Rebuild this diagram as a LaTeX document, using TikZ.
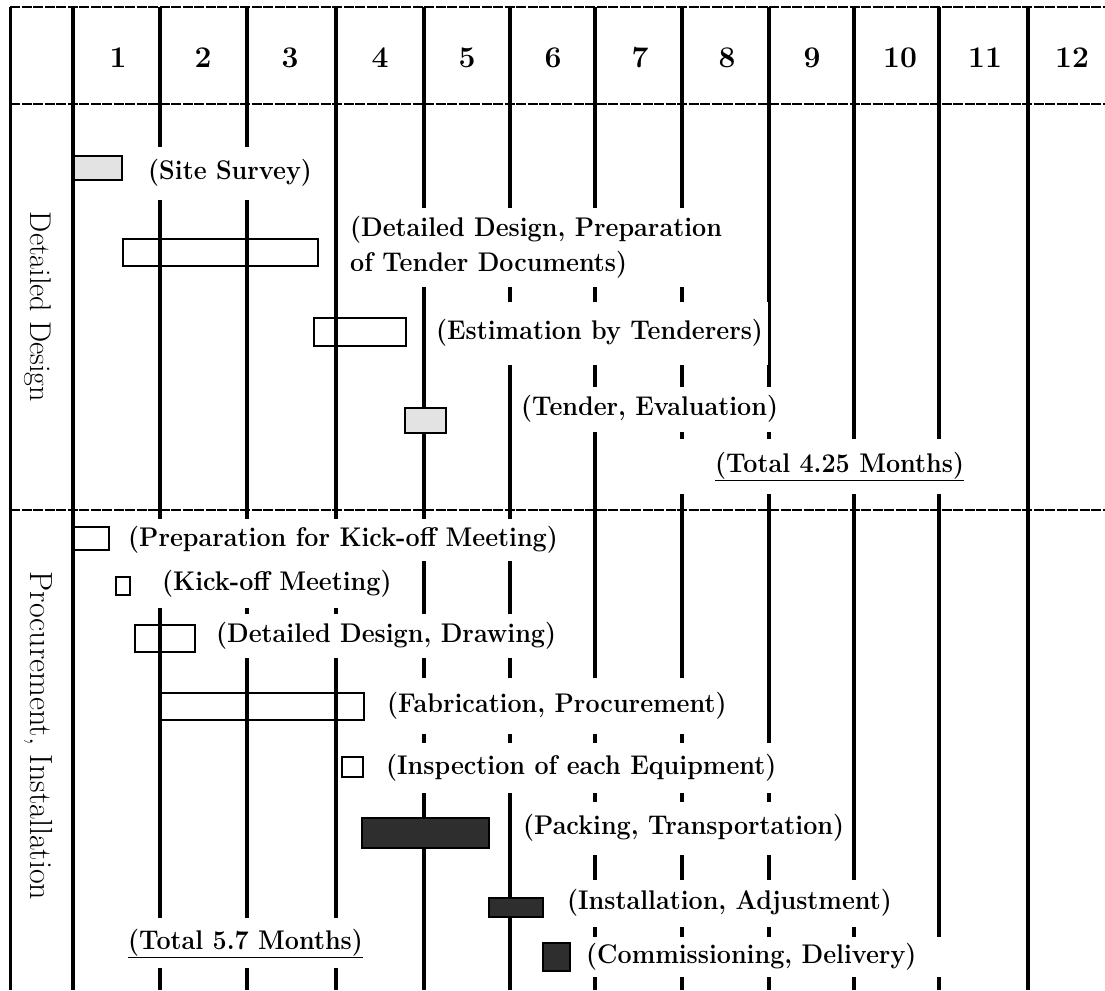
\documentclass[tikz,border=0pt]{standalone}
\usepackage{graphicx}
\newcommand{\tx}[1]{\scalebox{0.93}[1.0]{#1}}
\begin{document}
\begin{tikzpicture}[x=1pt,y=-1pt,
  vline/.style={line width=3.2pt},
  hline/.style={line width=1.4pt, dash pattern=on 10pt off 1.5pt},
  frameline/.style={line width=3pt},
  bar/.style={draw=black, line width=1.8pt},
  lightbar/.style={bar, fill=gray!22},
  darkbar/.style={bar, fill=black!82},
  lbl/.style={fill=white, inner xsep=5pt, inner ysep=0pt, anchor=west,
    font=\fontsize{27}{32}\selectfont\bfseries, text height=20pt, text depth=7pt},
  lbltwo/.style={fill=white, inner xsep=5pt, inner ysep=0pt, anchor=west, align=left,
    font=\fontsize{27}{35}\selectfont\bfseries},
  num/.style={font=\fontsize{30}{34}\selectfont\bfseries},
  side/.style={rotate=-90, text height=21pt, text depth=0pt, inner sep=0pt}
]
\useasboundingbox (0,0) rectangle (1105,990);
\fill[white] (0,0) rectangle (1105,990);

% vertical grid lines
\draw[frameline] (10,7) -- (10,990);
\foreach \x in {73,160,247,336,424,510,595,682,769,854,939,1028}
  \draw[vline] (\x,7) -- (\x,990);

% bars
\draw[lightbar] (74,156) rectangle (122,180);
\draw[bar] (123,239) rectangle (318,266);
\draw[bar] (314,318) rectangle (406,346);
\draw[lightbar] (405,408) rectangle (446,433);
\draw[bar] (73,527) rectangle (109,550);
\draw[bar] (116,577) rectangle (130,595);
\draw[bar] (135,625) rectangle (195,652);
\draw[bar] (161,693) rectangle (364,720);
\draw[bar] (342,757) rectangle (363,777);
\draw[darkbar] (362,818) rectangle (489,848);
\draw[darkbar] (489,898) rectangle (543,917);
\draw[darkbar] (543,943) rectangle (570,971);

% task labels (white boxes interrupt the grid lines)
\node[lbl, minimum height=53pt] (ss) at (143,173) {\tx{(Site Survey)}};
\node[lbltwo, minimum height=79pt] (ddp) at (345,247.5) {\tx{(Detailed Design, Preparation}\\\tx{of Tender Documents)}};
\node[lbl, minimum height=63pt] (est) at (431,333) {\tx{(Estimation by Tenderers)}};
\node[lbl, minimum height=45pt] (ten) at (516,409) {\tx{(Tender, Evaluation)}};
\node[lbl, minimum height=55pt] (tot1) at (670,466) {\hspace*{40pt}\tx{\underline{(Total 4.25 Months)}}};

\node[lbl, minimum height=42pt] (prep) at (123,540) {\tx{(Preparation for Kick-off Meeting)}};
\node[lbl, minimum height=47pt] (kick) at (157,584) {\tx{(Kick-off Meeting)}};
\node[lbl, minimum height=44pt] (drw) at (211,636) {\tx{(Detailed Design, Drawing)}};
\node[lbl, minimum height=56pt] (fab) at (382,706) {\tx{(Fabrication, Procurement)}};
\node[lbl, minimum height=50pt] (insp) at (381,768) {\tx{(Inspection of each Equipment)}};
\node[lbl, minimum height=53pt] (pack) at (518,828) {\tx{(Packing, Transportation)}};
\node[lbl, minimum height=47pt] (inst) at (562,903) {\tx{(Installation, Adjustment)}};
\node[lbl, minimum height=40pt] (comm) at (581,957) {\tx{(Commissioning, Delivery)}\hspace*{20pt}};
\node[lbl, minimum height=50pt] (tot2) at (123,943) {\tx{\underline{(Total 5.7 Months)}}};

% horizontal lines
\draw[hline] (10,7) -- (1105,7);
\draw[hline] (10,104) -- (1105,104);
\draw[hline] (10,510) -- (1105,510);

% header numbers
\node[num] (m1) at (118,58) {1};
\node[num] (m2) at (203,58) {2};
\node[num] (m3) at (290,58) {3};
\node[num] (m4) at (380,58) {4};
\node[num] (m5) at (467,58) {5};
\node[num] (m6) at (553,58) {6};
\node[num] (m7) at (640,58) {7};
\node[num] (m8) at (727,58) {8};
\node[num] (m9) at (812,58) {9};
\node[num] (m10) at (900,58) {10};
\node[num] (m11) at (985,58) {11};
\node[num] (m12) at (1072,58) {12};

% section labels
\node[side, font=\fontsize{30}{34}\selectfont] (secA) at (41,307) {Detailed Design};
\node[side, font=\fontsize{32}{36}\selectfont] (secB) at (41,736) {Procurement, Installation};
\end{tikzpicture}
\end{document}
